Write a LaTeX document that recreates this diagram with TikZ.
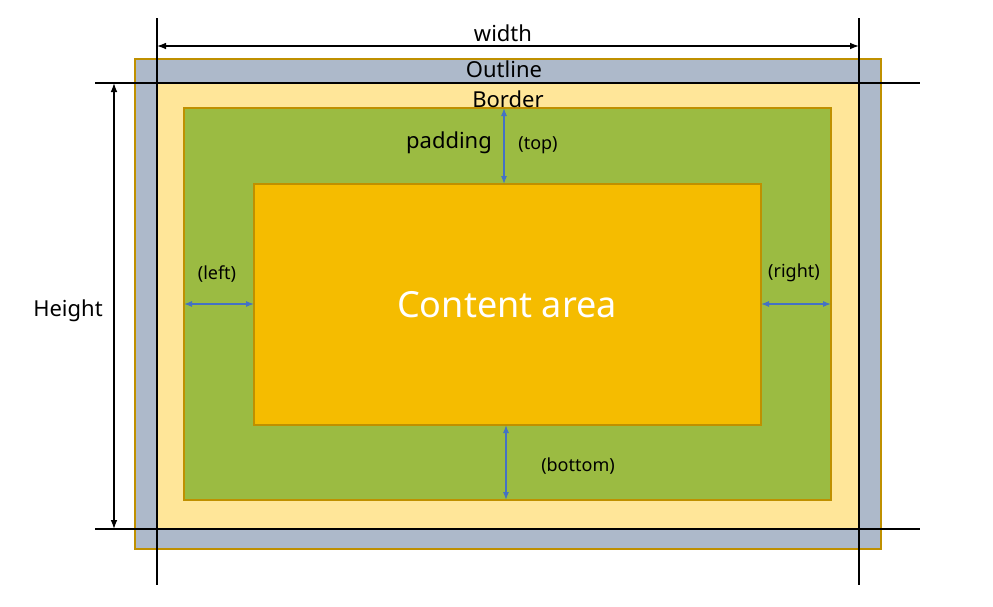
\documentclass[tikz,border=0pt]{standalone}
\usepackage{fontspec}
\setmainfont{Noto Sans}
\usetikzlibrary{arrows.meta}
\usetikzlibrary{positioning}

\definecolor{outlinegray}{HTML}{ADB9CA}
\definecolor{borderyellow}{HTML}{FFE699}
\definecolor{paddinggreen}{HTML}{9BBB42}
\definecolor{contentorange}{HTML}{F5BC00}
\definecolor{edgegold}{HTML}{BF9000}
\definecolor{arrowblue}{HTML}{4472C4}

\tikzset{
  box/.style={draw=edgegold, line width=1.5pt},
  guide/.style={line width=1.5pt},
  dim/.style={guide, {Latex[length=9pt]}-{Latex[length=9pt]}},
  gap/.style={draw=arrowblue, line width=1.2pt, {Latex[length=8pt]}-{Latex[length=8pt]}},
  lbl/.style={font=\fontsize{22}{24}\selectfont},
  small/.style={font=\fontsize{18}{20}\selectfont}
}

\begin{document}
\begin{tikzpicture}[x=1pt,y=-1pt]
\useasboundingbox (0,0) rectangle (993,606);

% boxes
\filldraw [box, fill=outlinegray] (135,59) rectangle (881,549);
\filldraw [box, draw=none, fill=borderyellow] (157,83) rectangle (859,529);
\filldraw [box, fill=paddinggreen] (184,108) rectangle (831,500);
\filldraw [box, fill=contentorange] (254,184) rectangle (761,425);

% guide lines
\draw [guide] (157,18) -- (157,585);
\draw [guide] (859,18) -- (859,585);
\draw [guide] (95,83) -- (920,83);
\draw [guide] (95,529) -- (920,529);

% dimensions
\coordinate (wl) at (157,46);
\coordinate (wr) at (859,46);
\coordinate (ht) at (114,83);
\coordinate (hb) at (114,529);
\draw [dim] (wl) -- (wr);
\draw [dim] (ht) -- (hb);
\node (width) [lbl] at (503,33) {width};
\node (height) [lbl] at (68,311) {Height};

% padding arrows
\coordinate (tt) at (504,108);
\coordinate (tb) at (504,184);
\coordinate (bt) at (506,425);
\coordinate (bb) at (506,500);
\coordinate (ll) at (184,304);
\coordinate (lr) at (254,304);
\coordinate (rl) at (761,304);
\coordinate (rr) at (831,304);
\draw [gap] (tt) -- (tb);
\draw [gap] (bt) -- (bb);
\draw [gap] (ll) -- (lr);
\draw [gap] (rl) -- (rr);

% labels
\node (outline) [lbl] at (504,69) {Outline};
\node (border) [lbl] at (508,99) {Border};
\node (padding) [lbl] at (449,143) {padding};
\node (top) [small] at (538,145) {(top)};
\node (left) [small] at (217,274) {(left)};
\node (right) [small] at (794,273) {(right)};
\node (bottom) [small] at (578,466) {(bottom)};
\node (content) [white, font=\fontsize{36}{40}\selectfont] at (507,305) {Content area};

\end{tikzpicture}
\end{document}
